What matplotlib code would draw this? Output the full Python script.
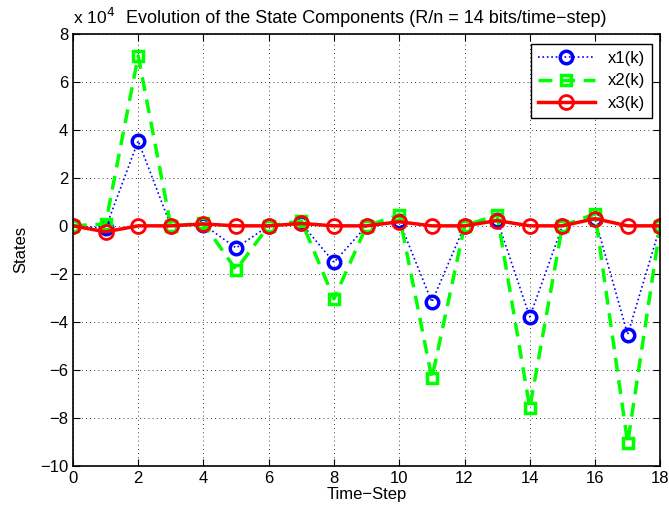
import matplotlib
matplotlib.use("Agg")
import matplotlib.pyplot as plt
import numpy as np

plt.rcParams['font.family'] = ['Liberation Sans', 'DejaVu Sans']

k = list(range(19))
x1 = [0, -0.1, 3.54, 0, 0.05, -0.92, 0, 0.1, -1.52, 0, 0.2, -3.17, 0, 0.25, -3.79, 0, 0.3, -4.53, 0]
x2 = [0, 0.08, 7.08, 0, 0.1, -1.83, 0, 0.2, -3.04, 0, 0.45, -6.35, 0, 0.45, -7.58, 0, 0.5, -9.05, 0]
x3 = [0, -0.25, 0, 0, 0.08, 0, 0, 0.1, 0, 0, 0.17, 0, 0, 0.22, 0, 0, 0.3, 0, 0]
scale_exp = 4
title = "Evolution of the State Components (R/n = 14 bits/time\u2212step)"
xlabel = "Time\u2212Step"
ylabel = "States"
labels = ["x1(k)", "x2(k)", "x3(k)"]
xticks = list(range(0, 19, 2))
yticks = list(range(-10, 9, 2))

fig = plt.figure(figsize=(6.69, 5.12), dpi=100)
ax = fig.add_axes([0.109, 0.090, 0.878, 0.844])

ax.plot(k, x1, color=(0, 0, 1), linestyle=':', linewidth=1.2, marker='o',
        markersize=9, markerfacecolor='none', markeredgewidth=2.5, label=labels[0])
ax.plot(k, x2, color=(0, 1, 0), linestyle=(0, (4, 2.5)), linewidth=2.5, marker='s',
        markersize=7, markerfacecolor='none', markeredgewidth=2.5, label=labels[1])
ax.plot(k, x3, color=(1, 0, 0), linestyle='-', linewidth=2.5, marker='o',
        markersize=10, markerfacecolor='none', markeredgewidth=2.0, label=labels[2])

ax.set_xlim(0, 18)
ax.set_ylim(-10, 8)
ax.set_xticks(xticks)
ax.set_yticks(yticks)
ax.set_yticklabels([("\u2212%d" % -v) if v < 0 else str(v) for v in yticks])
ax.tick_params(direction='in', top=True, right=True, labelsize=12, length=5, width=0.8)
ax.grid(True, linestyle=(0, (1, 4)), color='black', linewidth=0.6)
for s in ax.spines.values():
    s.set_linewidth(1.2)

ax.set_title(title, fontsize=13, pad=8, x=0.5)
ax.set_xlabel(xlabel, fontsize=12, labelpad=1)
ax.set_ylabel(ylabel, fontsize=12, labelpad=8)
fig.text(0.109, 0.947, r"x 10$^{%d}$" % scale_exp, fontsize=12.5, ha='left', va='bottom')

leg = ax.legend(loc='upper right', fontsize=12, fancybox=False, edgecolor='black',
                framealpha=1, handlelength=3.4, borderpad=0.4, labelspacing=0.45,
                bbox_to_anchor=(1.0, 0.995))
leg.get_frame().set_linewidth(1.0)

fig.savefig("out.png", dpi=100)
